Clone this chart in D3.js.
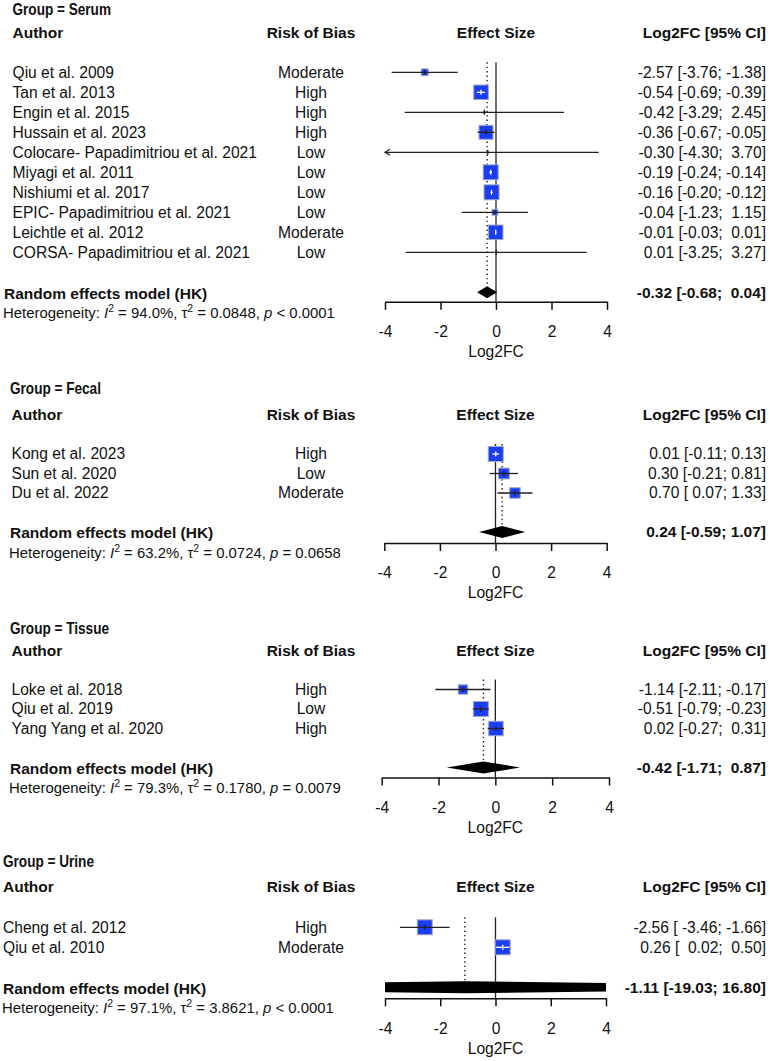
<!DOCTYPE html>
<html>
<head>
<meta charset="utf-8">
<script src="https://cdn.jsdelivr.net/npm/d3@7"></script>
<style>
body { margin: 0; background: #fff; }
svg text { font-family: "Liberation Sans", Arial, sans-serif; fill: #111; white-space: pre; }
</style>
</head>
<body>
<div id="chart"></div>
<script>

//=====================DATA=====================

const groupNames = ['Serum', 'Fecal', 'Tissue', 'Urine'];
const headers = ['Author', 'Risk of Bias', 'Effect Size', 'Log2FC [95% CI]'];
const xTicks = [-4, -2, 0, 2, 4];
const axisTitle = 'Log2FC';

// [author, risk of bias, log2FC, lower, upper, weight %]
const serumRows = [
	['Qiu et al. 2009', 'Moderate', -2.57, -3.76, -1.38, 4.0],
	['Tan et al. 2013', 'High', -0.54, -0.69, -0.39, 18.2],
	['Engin et al. 2015', 'High', -0.42, -3.29, 2.45, 0.5],
	['Hussain et al. 2023', 'High', -0.36, -0.67, -0.05, 16.8],
	['Colocare- Papadimitriou et al. 2021', 'Low', -0.30, -4.30, 3.70, 0.4],
	['Miyagi et al. 2011', 'Low', -0.19, -0.24, -0.14, 19.3],
	['Nishiumi et al. 2017', 'Low', -0.16, -0.20, -0.12, 19.3],
	['EPIC- Papadimitriou et al. 2021', 'Low', -0.04, -1.23, 1.15, 2.9],
	['Leichtle et al. 2012', 'Moderate', -0.01, -0.03, 0.01, 18.2],
	['CORSA- Papadimitriou et al. 2021', 'Low', 0.01, -3.25, 3.27, 0.4]
];

const fecalRows = [
	['Kong et al. 2023', 'High', 0.01, -0.11, 0.13, 49.8],
	['Sun et al. 2020', 'Low', 0.30, -0.21, 0.81, 25.9],
	['Du et al. 2022', 'Moderate', 0.70, 0.07, 1.33, 24.4]
];

const tissueRows = [
	['Loke et al. 2018', 'High', -1.14, -2.11, -0.17, 16.8],
	['Qiu et al. 2019', 'Low', -0.51, -0.79, -0.23, 43.0],
	['Yang Yang et al. 2020', 'High', 0.02, -0.27, 0.31, 40.2]
];

const urineRows = [
	['Cheng et al. 2012', 'High', -2.56, -3.46, -1.66, 49.9],
	['Qiu et al. 2010', 'Moderate', 0.26, 0.02, 0.50, 50.1]
];

// random effects model (HK): [estimate, lower, upper]
const summaries = [
	[-0.32, -0.68, 0.04],
	[0.24, -0.59, 1.07],
	[-0.42, -1.71, 0.87],
	[-1.11, -19.03, 16.80]
];

// heterogeneity: [I2, tau2, p]
const hetStats = [
	['94.0%', '0.0848', '< 0.0001'],
	['63.2%', '0.0724', '= 0.0658'],
	['79.3%', '0.1780', '= 0.0079'],
	['97.1%', '3.8621', '< 0.0001']
];

const groupRows = [serumRows, fecalRows, tissueRows, urineRows];

//=====================LAYOUT=====================

const width = 770;
const height = 1061;

// per panel positions (the four panels were stacked at slightly different scales)
const layout = [
	{title: 9, header: 33, row0: 72.3, step: 20, xr: [385, 607], axisGap: 9.5, titleX: 12.5, authorX: 12.5, sumX: 4},
	{title: 388, header: 414.5, row0: 454, step: 19.5, xr: [384.3, 606.7], axisGap: 11, titleX: 10, authorX: 11.5, sumX: 10},
	{title: 628, header: 651, row0: 689.5, step: 19.5, xr: [381.7, 609], axisGap: 10, titleX: 10, authorX: 11.5, sumX: 10},
	{title: 861, header: 887, row0: 927.3, step: 20, xr: [385, 606], axisGap: 11, titleX: 3, authorX: 3, sumX: 3}
];

const riskX = 311;
const valueX = 766;
const diamondH = 6;
const maxSquare = 15;
const blue = '#1b3ef2';
const fontSize = 15.6;
const boldSize = 15.5;

const svg = d3.select('#chart')
	.append('svg')
	.attr('width', width)
	.attr('height', height);

const defs = svg.append('defs');

//=====================HELPERS=====================

const f2 = d3.format('.2f');
const fmt = v => f2(v).replace('\u2212', '-');
const padL = (s, n) => ' '.repeat(Math.max(0, n - s.length)) + s;

// R meta style "est [lo; hi]" with padding inside the panel
const ciLabels = (rows, sum) => {
	const all = rows.map(r => [r[2], r[3], r[4]]).concat([sum]).map(a => a.map(fmt));
	const w = [0, 1, 2].map(i => d3.max(all, a => a[i].length));
	return all.map(a => `${padL(a[0], w[0])} [${padL(a[1], w[1])}; ${padL(a[2], w[2])}]`);
};

const addText = (g, x, y, s, anchor, size, bold) => g.append('text')
	.attr('x', x)
	.attr('y', y)
	.attr('dy', '0.35em')
	.attr('text-anchor', anchor || 'start')
	.attr('xml:space', 'preserve')
	.style('font-size', (size || fontSize) + 'px')
	.style('font-weight', bold ? 'bold' : 'normal')
	.text(s);

const hetText = (g, x, y, h) => {
	const t = g.append('text')
		.attr('x', x)
		.attr('y', y)
		.attr('dy', '0.35em')
		.attr('xml:space', 'preserve')
		.style('font-size', '14.9px');
	t.append('tspan').text('Heterogeneity: ');
	t.append('tspan').style('font-style', 'italic').text('I');
	t.append('tspan').attr('dy', -6).style('font-size', '10.5px').text('2');
	t.append('tspan').attr('dy', 6).text(` = ${h[0]}, \u03c4`);
	t.append('tspan').attr('dy', -6).style('font-size', '10.5px').text('2');
	t.append('tspan').attr('dy', 6).text(` = ${h[1]}, `);
	t.append('tspan').style('font-style', 'italic').text('p');
	t.append('tspan').text(` ${h[2]}`);
};

//=====================PANELS=====================

groupNames.forEach((name, gi) => {

	const L = layout[gi];
	const rows = groupRows[gi];
	const sum = summaries[gi];
	const labels = ciLabels(rows, sum);

	const g = svg.append('g').attr('class', 'panel ' + name);

	const x = d3.scaleLinear().domain([xTicks[0], xTicks[xTicks.length - 1]]).range(L.xr);
	const y = i => L.row0 + i * L.step;
	const size = d3.scaleSqrt().domain([0, d3.max(rows, r => r[5])]).range([0, maxSquare]);

	const sumY = y(rows.length + 1);
	const axisY = sumY + L.axisGap;

	// title (condensed bold)
	g.append('text')
		.attr('transform', `translate(${L.titleX},${L.title}) scale(0.85,1)`)
		.attr('dy', '0.35em')
		.style('font-size', '16px')
		.style('font-weight', 'bold')
		.text(`Group = ${name}`);

	// column headers
	addText(g, L.authorX, L.header, headers[0], 'start', boldSize, true);
	addText(g, riskX, L.header, headers[1], 'middle', boldSize, true);
	addText(g, x(0), L.header, headers[2], 'middle', boldSize, true);
	addText(g, valueX, L.header, headers[3], 'end', boldSize, true);

	// study rows text
	rows.forEach((r, i) => {
		addText(g, L.authorX, y(i), r[0]);
		addText(g, riskX, y(i), r[1], 'middle');
		addText(g, valueX, y(i), labels[i], 'end');
	});

	// summary text
	addText(g, L.sumX, sumY + 1, 'Random effects model (HK)', 'start', boldSize, true);
	addText(g, valueX, sumY, labels[rows.length], 'end', boldSize, true);
	hetText(g, L.sumX - 1, sumY + 20.5, hetStats[gi]);

	// reference lines
	g.append('line')
		.attr('x1', x(0)).attr('x2', x(0))
		.attr('y1', L.row0 - 10).attr('y2', axisY)
		.attr('stroke', '#222').attr('stroke-width', 1.3);

	g.append('line')
		.attr('x1', x(sum[0])).attr('x2', x(sum[0]))
		.attr('y1', L.row0 - 10).attr('y2', sumY - diamondH)
		.attr('stroke', '#222').attr('stroke-width', 1.4)
		.attr('stroke-dasharray', '1.4,3');

	// study squares + CI
	const [xmin, xmax] = x.domain();
	rows.forEach((r, i) => {
		const cx = x(r[2]);
		const cy = y(i);
		const s = size(r[5]);

		g.append('rect')
			.attr('x', cx - s / 2).attr('y', cy - s / 2)
			.attr('width', s).attr('height', s)
			.attr('fill', blue)
			.attr('stroke', s > 4 ? '#a3a8c4' : 'none')
			.attr('stroke-width', 1);

		const lo = x(Math.max(r[3], xmin));
		const hi = x(Math.min(r[4], xmax));
		const inside = lo >= cx - s / 2 && hi <= cx + s / 2;
		const col = inside ? '#fff' : '#222';

		g.append('line')
			.attr('x1', lo).attr('x2', hi)
			.attr('y1', cy).attr('y2', cy)
			.attr('stroke', col).attr('stroke-width', 1.3);

		g.append('line')
			.attr('x1', cx).attr('x2', cx)
			.attr('y1', cy - 2.5).attr('y2', cy + 2.5)
			.attr('stroke', col).attr('stroke-width', 1.3);

		if (r[3] < xmin) {
			g.append('path')
				.attr('d', `M${lo + 5},${cy - 3}L${lo},${cy}L${lo + 5},${cy + 3}`)
				.attr('fill', 'none').attr('stroke', '#222').attr('stroke-width', 1.3);
		}
		if (r[4] > xmax) {
			g.append('path')
				.attr('d', `M${hi - 5},${cy - 3}L${hi},${cy}L${hi - 5},${cy + 3}`)
				.attr('fill', 'none').attr('stroke', '#222').attr('stroke-width', 1.3);
		}
	});

	// diamond, clipped to the axis limits
	const clipId = 'clip-' + name;
	defs.append('clipPath').attr('id', clipId)
		.append('rect')
		.attr('x', L.xr[0]).attr('y', sumY - 20)
		.attr('width', L.xr[1] - L.xr[0]).attr('height', 40);

	g.append('polygon')
		.attr('clip-path', `url(#${clipId})`)
		.attr('points', [
			[x(sum[1]), sumY],
			[x(sum[0]), sumY - diamondH],
			[x(sum[2]), sumY],
			[x(sum[0]), sumY + diamondH]
		].map(p => p.join(',')).join(' '))
		.attr('fill', '#000');

	// axis
	const axis = g.append('g').attr('transform', `translate(0,${axisY})`);
	axis.call(d3.axisBottom(x).tickValues(xTicks).tickSize(8).tickSizeOuter(0).tickFormat(d => fmt(d).replace('.00', '')));
	axis.select('.domain').attr('stroke', '#111').attr('stroke-width', 1.5);
	axis.selectAll('.tick line').attr('stroke', '#111').attr('stroke-width', 1.5);
	axis.selectAll('.tick text')
		.attr('y', 30)
		.attr('dy', '0.35em')
		.style('font-size', fontSize + 'px')
		.style('font-family', '"Liberation Sans", Arial, sans-serif')
		.attr('fill', '#111');

	addText(g, x(0), axisY + 50, axisTitle, 'middle');
});

</script>
</body>
</html>
